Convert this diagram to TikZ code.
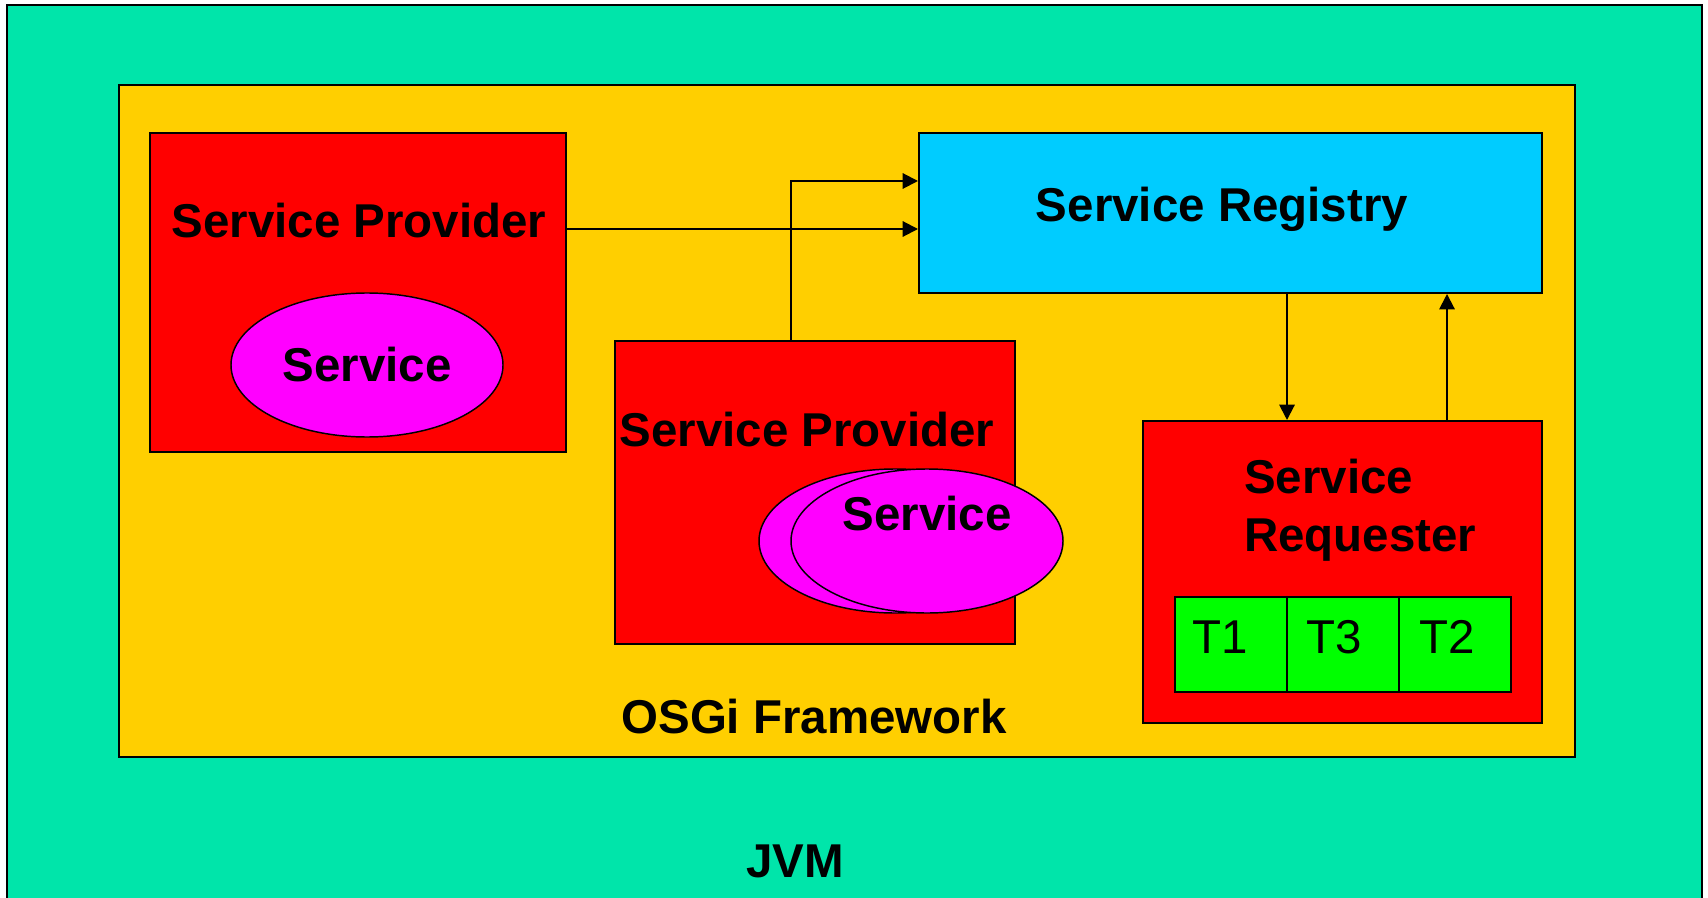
\documentclass[tikz,border=0pt]{standalone}
\usepackage{fontspec}
\setmainfont{Liberation Sans}
\usetikzlibrary{arrows.meta,fit,shapes.geometric}

\definecolor{jvmgreen}{RGB}{0,229,170}
\definecolor{osgiyellow}{RGB}{255,207,0}
\definecolor{provred}{RGB}{255,0,0}
\definecolor{regcyan}{RGB}{0,204,255}
\definecolor{servmagenta}{RGB}{255,0,255}
\definecolor{taskgreen}{RGB}{0,255,0}

\begin{document}
\begin{tikzpicture}[
  x=0.75pt, y=-0.75pt,
  box/.style={draw=black, line width=1.5pt, inner sep=0pt},
  servell/.style={ellipse, draw=black, line width=1.1pt, fill=servmagenta,
    minimum width=204pt, minimum height=108pt, inner sep=0pt},
  cell/.style={draw=black, line width=1.3pt, fill=taskgreen, inner sep=0pt},
  big/.style={font=\fontsize{35.6}{43.5}\selectfont\bfseries, inner sep=0pt},
  plain/.style={font=\fontsize{35.6}{43.5}\selectfont, inner sep=0pt},
  link/.style={draw=black, line width=1.5pt,
    -{Triangle[length=11.5pt, width=11.5pt]}},
]
\useasboundingbox (0,0) rectangle (1708,898);
\clip (0,0) rectangle (1708,898);
\fill[white] (0,0) rectangle (1708,898);

% Java virtual machine and the framework inside it
\node[box, fill=jvmgreen, fit={(7,5) (1702,920)}] (jvm) {};
\node[box, fill=osgiyellow, fit={(119,85) (1575,757)}] (osgi) {};

% First provider bundle
\node[box, fill=provred, fit={(150,133) (566,452)}] (prov1) {};
\node[big] (prov1lbl) at (359,221) {Service Provider};
\node[servell] (serv1) at (367,365) {};
\node[big] (serv1lbl) at (367,365) {Service};

% Registry
\node[box, fill=regcyan, fit={(919,133) (1542,293)}] (reg) {};
\node[big] (reglbl) at (1222,209) {Service Registry};

% Second provider bundle with two service instances
\node[box, fill=provred, fit={(615,341) (1015,644)}] (prov2) {};
\node[big] (prov2lbl) at (807,430) {Service Provider};
\node[servell] (serv2b) at (895,541) {};
\node[servell] (serv2a) at (927,541) {};
\node[big] (serv2lbl) at (927,514) {Service};

% Requester with its tasks
\node[box, fill=provred, fit={(1143,421) (1542,723)}] (req) {};
\node[big, anchor=west, align=left] (reqlbl) at (1244,510) {Service\\Requester};
\node[cell, fit={(1175,597) (1287,692)}] (t1) {};
\node[cell, fit={(1287,597) (1399,692)}] (t3) {};
\node[cell, fit={(1399,597) (1511,692)}] (t2) {};
\node[plain] (t1lbl) at (1220,637) {T1};
\node[plain] (t3lbl) at (1334,637) {T3};
\node[plain] (t2lbl) at (1447,637) {T2};

% Framework and JVM captions
\node[big] (osgilbl) at (814,717) {OSGi Framework};
\node[big] (jvmlbl) at (795,861) {JVM};

% Registration and lookup connectors
\coordinate (bend) at (791,181);
\draw[link] (prov1.east |- 0,229) -- (reg.west |- 0,229);
\draw[link] (prov2.north -| bend) -- (bend) -- (reg.west |- bend);
\draw[link] (reg.south -| 1287,0) -- (req.north -| 1287,0);
\draw[link] (req.north -| 1447,0) -- (reg.south -| 1447,0);
\end{tikzpicture}
\end{document}
